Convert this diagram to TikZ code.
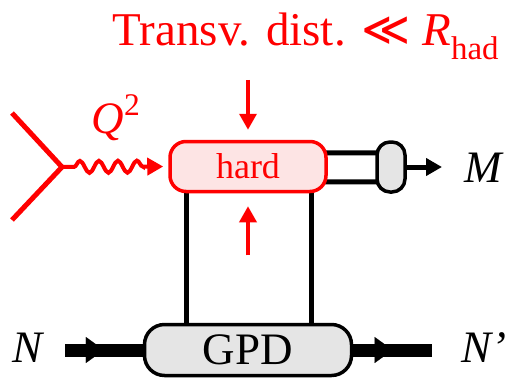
\documentclass[tikz,border=0pt]{standalone}
\usepackage{fontspec}
\setmainfont{Liberation Serif}
\newfontfamily\symfont{DejaVu Sans}
\usetikzlibrary{arrows.meta,decorations.pathmorphing,decorations.markings,backgrounds}
\definecolor{hardfill}{RGB}{253,228,228}
\definecolor{blobfill}{RGB}{229,229,229}

\begin{document}
\begin{tikzpicture}[x=1pt,y=-1pt,font=\fontsize{45}{50}\selectfont,
  redline/.style={red,line width=5pt},
  redarrow/.style={red,line width=4pt,-{Triangle[length=16pt,width=17pt]}},
  quark/.style={line width=5pt},
  blob/.style={draw,line width=3.5pt,rounded corners=#1,inner sep=0pt},
  fatarrow/.style={line width=13pt,postaction={decorate},decoration={markings,mark=at position .5 with {\arrow[line width=0.1pt]{Triangle[length=18pt,width=26pt]}}}}]
\useasboundingbox (0,0) rectangle (510,380);
\node[blob=16pt,red,fill=hardfill,minimum width=156pt,minimum height=50pt,font=\fontsize{36}{40}\selectfont] (hard) at (248,166.5) {hard};
\node[blob=13pt,fill=blobfill,minimum width=28pt,minimum height=50pt] (meson) at (391,167) {};
\node[blob=20pt,fill=blobfill,minimum width=207pt,minimum height=51pt] (gpd) at (248,350) {GPD};
\coordinate (v) at (62,167); \coordinate (lin) at (12,113); \coordinate (lout) at (12,220);
\coordinate (nin) at (65,350); \coordinate (nout) at (432,350); \coordinate (mout) at (442,167);
\begin{scope}[on background layer]
\draw[quark] ([xshift=-62pt]hard.center) -- ([xshift=-62pt]gpd.center);
\draw[quark] ([xshift=63pt]hard.center) -- ([xshift=63pt]gpd.center);
\draw[quark] ([yshift=14pt]hard.center) -- ([yshift=14pt]meson.center);
\draw[quark] ([yshift=-15pt]hard.center) -- ([yshift=-15pt]meson.center);
\end{scope}
\draw[redline] (lin) -- (v) -- (lout);
\draw[redarrow,decorate,decoration={snake,amplitude=6pt,segment length=19pt,pre length=12pt,post length=22pt},shorten >=5pt] (v) -- (hard.west);
\draw[redarrow,line width=3.5pt] ([yshift=60pt]hard.north) -- ([yshift=10pt]hard.north);
\draw[redarrow,line width=3.5pt] ([yshift=-62pt]hard.south) -- ([yshift=-13pt]hard.south);
\draw[line width=5pt,-{Triangle[length=16pt,width=17pt]}] (meson.east) -- (mout);
\draw[fatarrow] (nin) -- (gpd.west); \draw[fatarrow] (gpd.east) -- (nout);
\node[red,anchor=base,font=\fontsize{47}{50}\selectfont] (title) at (306,45) {Transv. dist. {\symfont ≪} \textit{R}\textsubscript{had}};
\node[red,anchor=base] (q2) at (116,133) {\textit{Q}\raisebox{8pt}{\textsuperscript{2}}};
\node[anchor=base] (M) at (484,182) {\textit{M}};
\node[anchor=base] (N) at (29,362) {\textit{N}};
\node[anchor=base] (Np) at (484,362) {\textit{N’}};
\end{tikzpicture}
\end{document}
